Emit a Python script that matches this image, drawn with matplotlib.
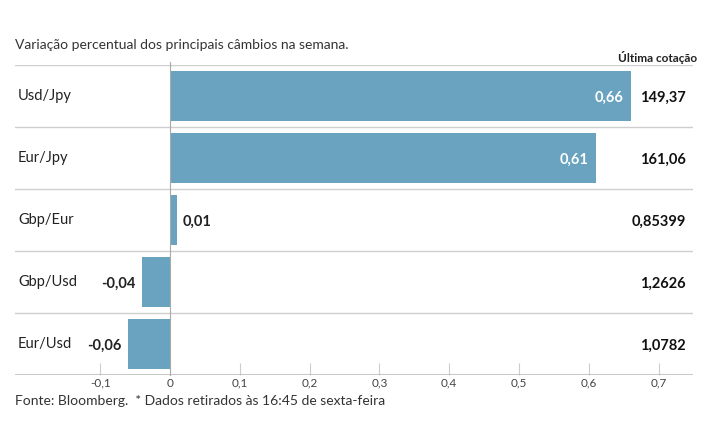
import matplotlib
matplotlib.use("Agg")
import matplotlib.pyplot as plt
import matplotlib.transforms as mtransforms

plt.rcParams['font.family'] = ['Lato', 'DejaVu Sans']

pairs = ['Usd/Jpy', 'Eur/Jpy', 'Gbp/Eur', 'Gbp/Usd', 'Eur/Usd']
changes = [0.66, 0.61, 0.01, -0.04, -0.06]
last_quote = ['149,37', '161,06', '0,85399', '1,2626', '1,0782']
xticks = [-0.1, 0, 0.1, 0.2, 0.3, 0.4, 0.5, 0.6, 0.7]
xtick_labels = ['-0,1', '0', '0,1', '0,2', '0,3', '0,4', '0,5', '0,6', '0,7']

bar_color = '#69a3bf'
grid_color = '#cfcfcf'
W, H = 715, 445

fig = plt.figure(figsize=(W / 100, H / 100), dpi=100)
ax = fig.add_axes([15 / W, 1 - 375 / H, (693 - 15) / W, (375 - 65) / H])

ypos = list(range(len(pairs)))
ax.barh(ypos, changes, height=0.8, color=bar_color, zorder=2)
ax.set_ylim(len(pairs) - 0.5, -0.5)
ax.set_xlim((15 - 170) / 698, (693 - 170) / 698)

# row separators
for i in range(len(pairs)):
    ax.axhline(i - 0.5, color=grid_color, lw=1, zorder=1)
ax.axhline(len(pairs) - 0.5, color='#bdbdbd', lw=1.2, zorder=3)
ax.axvline(0, color='#aaaaaa', lw=0.8, zorder=3, ymax=1.01, clip_on=False)

for s in ax.spines.values():
    s.set_visible(False)
ax.set_yticks([])
ax.set_xticks(xticks)
ax.set_xticklabels(xtick_labels, fontsize=8.5, color='#444444')
ax.tick_params(axis='x', direction='in', length=9, color='#cccccc', pad=2)

trans_lab = mtransforms.blended_transform_factory(fig.transFigure, ax.transData)
for i, (name, v, q) in enumerate(zip(pairs, changes, last_quote)):
    ax.text(18 / W, i, name, transform=trans_lab, fontsize=10.5, color='#222222',
            ha='left', va='center')
    lab = f"{v:.2f}".replace('.', ',')
    if v >= 0.1:
        ax.text(v - 0.01, i + 0.03, lab, ha='right', va='center', color='white',
                fontsize=10.5, fontweight='bold', zorder=4)
    elif v >= 0:
        ax.text(v + 0.008, i + 0.03, lab, ha='left', va='center', color='#222222',
                fontsize=10.5, fontweight='bold', zorder=4)
    else:
        ax.text(v - 0.01, i + 0.03, lab, ha='right', va='center', color='#222222',
                fontsize=10.5, fontweight='bold', zorder=4)
    ax.text(686 / W, i + 0.03, q, transform=trans_lab, ha='right', va='center',
            color='#111111', fontsize=10.5, fontweight='bold')

fig.text(15 / W, 1 - 45 / H, 'Variação percentual dos principais câmbios na semana.',
         fontsize=10, color='#333333', ha='left', va='center')
fig.text(697 / W, 1 - 57 / H, 'Última cotação', fontsize=8.5, fontweight='bold',
         color='#222222', ha='right', va='center')
fig.text(15 / W, 1 - 401 / H, 'Fonte: Bloomberg.  * Dados retirados às 16:45 de sexta-feira',
         fontsize=10, color='#333333', ha='left', va='center')

fig.savefig('out.png', dpi=100, facecolor='white')
